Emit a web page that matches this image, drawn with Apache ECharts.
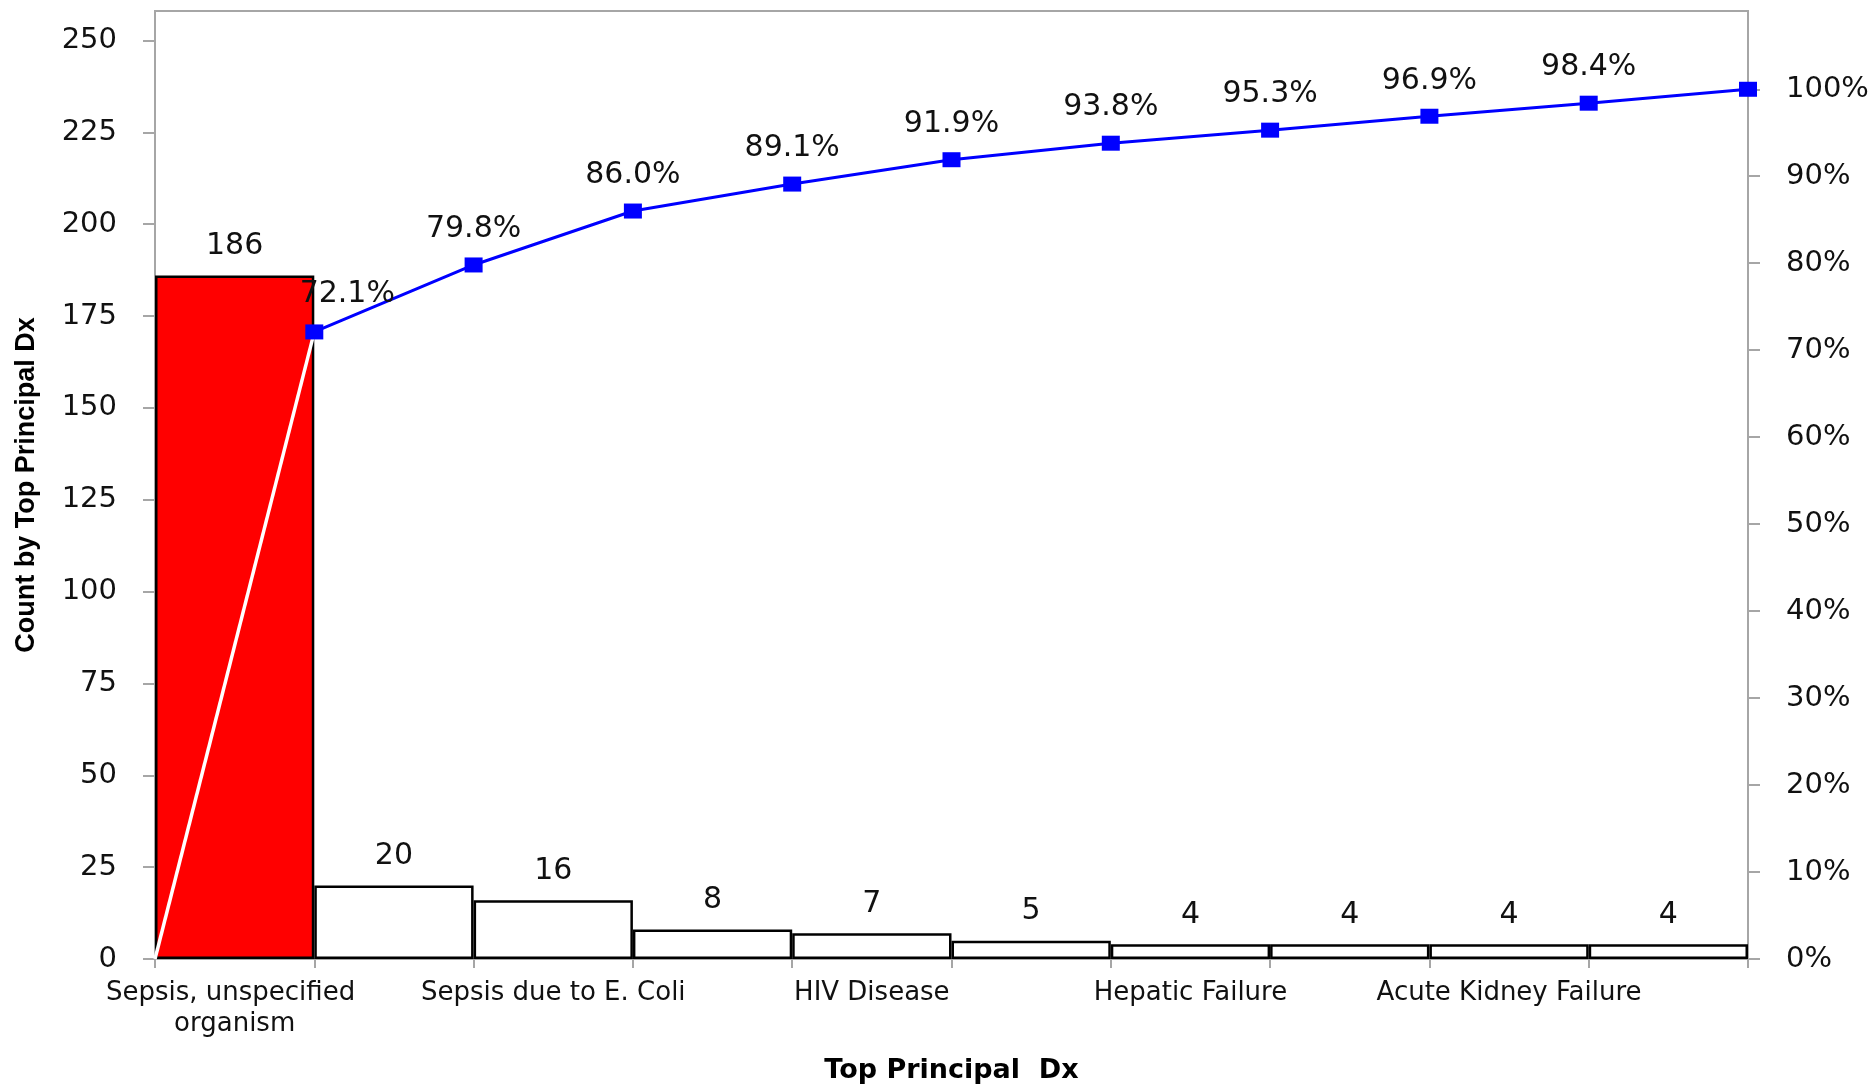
<!DOCTYPE html>
<html>
<head>
<meta charset="utf-8">
<script src="https://cdn.jsdelivr.net/npm/echarts@6/dist/echarts.min.js"></script>
<style>
html,body{margin:0;padding:0;background:#fff;}
#chart{width:1873px;height:1087px;}
</style>
</head>
<body>
<div id="chart"></div>
<script>
// Categories (unlabelled ones are not shown in the reference)
const categories = ['Sepsis, unspecified organism', '', 'Sepsis due to E. Coli', '', 'HIV Disease', '', 'Hepatic Failure', '', 'Acute Kidney Failure', ''];
const counts = [186, 20, 16, 8, 7, 5, 4, 4, 4, 4];
const cumulativePct = [72.1, 79.8, 86.0, 89.1, 91.9, 93.8, 95.3, 96.9, 98.4, 100.0];
const countTicks = [0, 25, 50, 75, 100, 125, 150, 175, 200, 225, 250];
const pctTicks = [0, 10, 20, 30, 40, 50, 60, 70, 80, 90, 100];

const FONT = 'DejaVu Sans';
const GRAY = '#a6a6a6';

const barData = counts.map((v, i) => i === 0
  ? { value: v, itemStyle: { color: '#ff0000' } }
  : { value: v });

// line points sit at the right edge of each bar (x = index + 1)
const blueData = cumulativePct.map((v, i) => {
  const item = { value: [i + 1, v] };
  if (i === 0) item.label = { offset: [33, -2] };
  if (i === cumulativePct.length - 1) item.label = { show: false };
  return item;
});
const whiteData = [[0, 0], [1, cumulativePct[0]]];

const chart = echarts.init(document.getElementById('chart'));
chart.setOption({
  animation: false,
  backgroundColor: '#ffffff',
  grid: {
    left: 155, right: 125, top: 11, bottom: 128,
    show: true, borderColor: GRAY, borderWidth: 2,
    outerBoundsMode: 'none'
  },
  xAxis: [
    {
      type: 'category',
      data: categories,
      boundaryGap: true,
      name: 'Top Principal  Dx',
      nameLocation: 'middle',
      nameGap: 98,
      nameTextStyle: { fontFamily: FONT, fontWeight: 'bold', fontSize: 27, color: '#000' },
      axisLine: { show: true, lineStyle: { color: GRAY, width: 2 } },
      axisTick: { show: true, interval: 0, length: 9, lineStyle: { color: GRAY, width: 2 } },
      axisLabel: {
        interval: 1, margin: 19, fontFamily: FONT, fontSize: 26, color: '#111',
        width: 300, overflow: 'break', lineHeight: 31
      },
      splitLine: { show: false }
    },
    {
      type: 'value',
      min: 0, max: 10,
      show: false
    }
  ],
  yAxis: [
    {
      type: 'value',
      min: 0, max: 258,
      position: 'left',
      name: 'Count by Top Principal Dx',
      nameLocation: 'middle',
      nameRotate: 90,
      nameGap: 115,
      nameTextStyle: { fontFamily: 'Liberation Sans', fontWeight: 'bold', fontSize: 27, color: '#000' },
      axisLine: { show: true, lineStyle: { color: GRAY, width: 2 } },
      axisTick: { show: true, inside: false, length: 12, customValues: countTicks, lineStyle: { color: GRAY, width: 2 } },
      axisLabel: { customValues: countTicks, margin: 38, fontFamily: FONT, fontSize: 29, color: '#111' },
      splitLine: { show: false }
    },
    {
      type: 'value',
      min: 0, max: 109,
      position: 'right',
      axisLine: { show: true, lineStyle: { color: GRAY, width: 2 } },
      axisTick: { show: true, inside: false, length: 12, customValues: pctTicks, lineStyle: { color: GRAY, width: 2 } },
      axisLabel: { customValues: pctTicks, margin: 38, fontFamily: FONT, fontSize: 29, color: '#111', formatter: '{value}%' },
      splitLine: { show: false }
    }
  ],
  series: [
    {
      type: 'bar',
      xAxisIndex: 0, yAxisIndex: 0,
      data: barData,
      barCategoryGap: '0%',
      itemStyle: { color: '#ffffff', borderColor: '#000000', borderWidth: 2.5 },
      label: { show: true, position: 'top', distance: 14, fontFamily: FONT, fontSize: 30, color: '#111' },
      z: 2
    },
    {
      type: 'line',
      xAxisIndex: 1, yAxisIndex: 1,
      data: whiteData,
      showSymbol: false,
      symbol: 'none',
      lineStyle: { color: '#ffffff', width: 3.5 },
      z: 3
    },
    {
      type: 'line',
      xAxisIndex: 1, yAxisIndex: 1,
      data: blueData,
      symbol: 'rect',
      symbolSize: [18, 15],
      itemStyle: { color: '#0000ff' },
      lineStyle: { color: '#0000ff', width: 3 },
      label: {
        show: true, position: 'top', distance: 13,
        fontFamily: FONT, fontSize: 30, color: '#111',
        formatter: p => p.value[1].toFixed(1) + '%'
      },
      z: 4
    }
  ]
});
</script>
</body>
</html>
